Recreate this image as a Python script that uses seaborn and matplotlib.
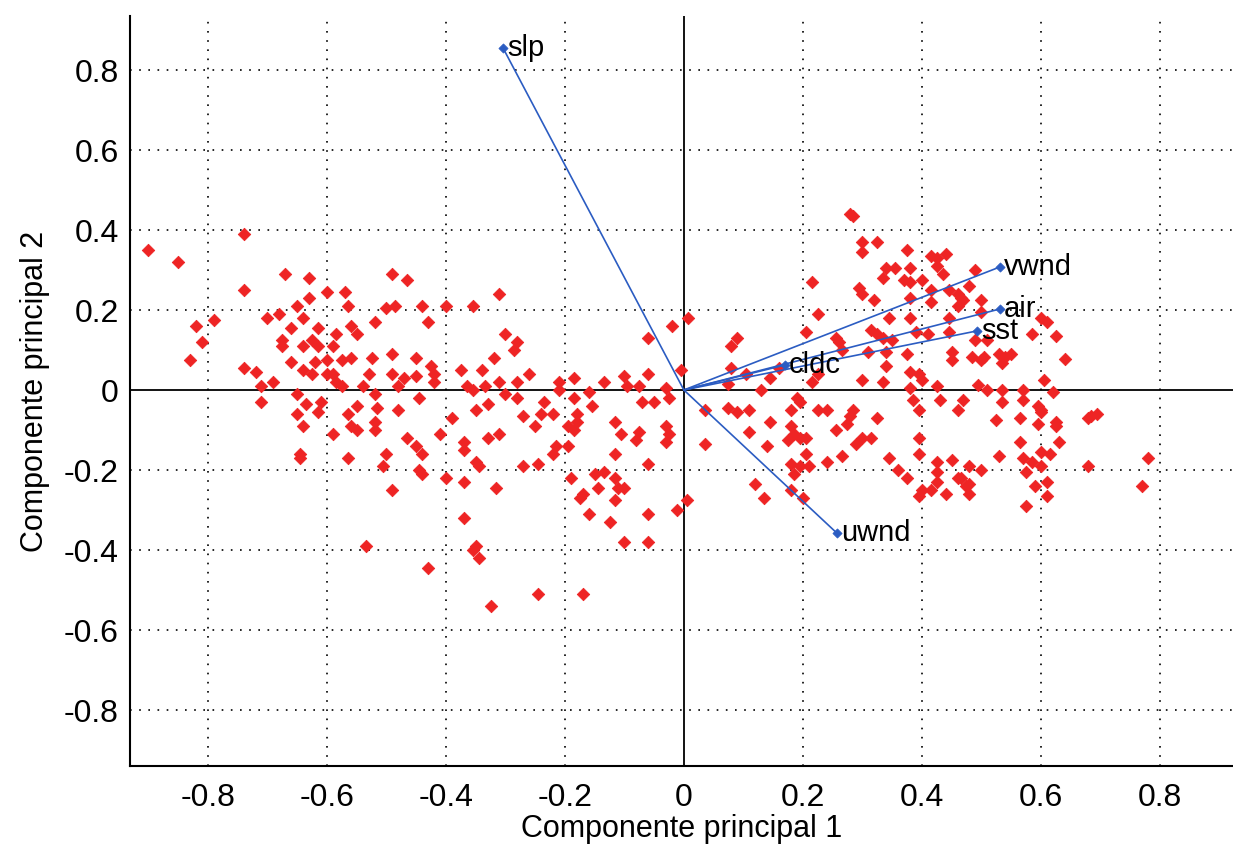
import numpy as np
import pandas as pd
import matplotlib
matplotlib.use("Agg")
import matplotlib.pyplot as plt
import seaborn as sns
from matplotlib.ticker import FuncFormatter, FixedLocator

# ---------------- data ----------------
pc1 = [
    -0.90, -0.85, -0.74, -0.74, -0.67, -0.63, -0.60, -0.57, -0.63, -0.65, -0.565, -0.49, -0.465, -0.50, -0.485,
    -0.82, -0.79, -0.81, -0.83, -0.70, -0.68, -0.64, -0.66, -0.615, -0.585, -0.56, -0.55, -0.675, -0.675, -0.64,
    -0.625, -0.615, -0.59, -0.52, -0.525, -0.49, -0.66, -0.62, -0.60, -0.575, -0.56, -0.74, -0.72, -0.71, -0.69,
    -0.64, -0.625, -0.60, -0.59, -0.585, -0.575, -0.53, -0.54, -0.52, -0.49, -0.48, -0.47, -0.65, -0.71, -0.635,
    -0.61, -0.65, -0.615, -0.565, -0.55, -0.515, -0.48, -0.64, -0.59, -0.56, -0.55, -0.52, -0.52, -0.465, -0.645,
    -0.645, -0.565, -0.50, -0.505, -0.49, -0.535,
    -0.31, -0.44, -0.40, -0.355, -0.43, -0.30, -0.28, -0.285, -0.45, -0.32, -0.425, -0.42, -0.42, -0.45, -0.375,
    -0.34, -0.26, -0.365, -0.355, -0.335, -0.31, -0.28, -0.30, -0.28, -0.445, -0.21, -0.21, -0.185, -0.185, -0.16,
    -0.135, -0.10, -0.095, -0.075, -0.06, -0.03, -0.025, -0.02, -0.06, -0.005, 0.007, -0.07, -0.05, -0.35, -0.33,
    -0.27, -0.235, -0.24, -0.22, -0.18, -0.155, -0.39, -0.41, -0.45, -0.44, -0.445, -0.44, -0.37, -0.37, -0.33,
    -0.31, -0.25, -0.195, -0.185, -0.18, -0.215, -0.22, -0.195, -0.35, -0.345, -0.27, -0.245, -0.40, -0.37, -0.315,
    -0.37, -0.355, -0.35, -0.345, -0.43, -0.325, -0.245, -0.17, -0.19, -0.15, -0.135, -0.17, -0.175, -0.145, -0.115,
    -0.11, -0.10, -0.115, -0.16, -0.125, -0.10, -0.06, -0.06, -0.012, -0.115, -0.105, -0.075, -0.08, -0.03, -0.025,
    -0.03, -0.115, -0.06, 0.005,
    0.28, 0.285, 0.30, 0.30, 0.325, 0.375, 0.415, 0.425, 0.44, 0.425, 0.435, 0.34, 0.355, 0.335, 0.38,
    0.37, 0.38, 0.40, 0.295, 0.30, 0.32, 0.38, 0.415, 0.445, 0.46, 0.465, 0.415, 0.46, 0.215, 0.225,
    0.345, 0.38, 0.445, 0.205, 0.255, 0.26, 0.265, 0.315, 0.325, 0.335, 0.35, 0.39, 0.41, 0.445, 0.09,
    0.08, 0.31, 0.34, 0.375, 0.45, 0.45, 0.34, 0.38, 0.395, 0.40, 0.08, 0.105, 0.145, 0.16, 0.225,
    0.215, 0.30, 0.335, 0.075, 0.13, 0.38, 0.425, 0.43, 0.47, 0.035, 0.075, 0.09, 0.11, 0.18, 0.19,
    0.195, 0.225, 0.24, 0.285, 0.385, 0.395, 0.46, 0.49, 0.48, 0.47, 0.50, 0.50, 0.60, 0.61, 0.585,
    0.625, 0.64, 0.49, 0.51, 0.485, 0.50, 0.505, 0.53, 0.54, 0.55, 0.535, 0.605, 0.62, 0.495, 0.51,
    0.535, 0.57, 0.535, 0.57, 0.595, 0.60, 0.685, 0.695, 0.525, 0.565, 0.60, 0.595, 0.625, 0.625, 0.68,
    0.565, 0.63, 0.53, 0.60, 0.615, 0.57, 0.585, 0.60, 0.575, 0.48, 0.50, 0.68, 0.48, 0.48, 0.465,
    0.59, 0.61, 0.61, 0.575, 0.78, 0.77, 0.11, 0.145, 0.18, 0.185, 0.195, 0.175, 0.205, 0.205, 0.14,
    0.035, 0.18, 0.195, 0.21, 0.185, 0.24, 0.265, 0.255, 0.275, 0.29, 0.30, 0.315, 0.325, 0.28, 0.345,
    0.36, 0.375, 0.395, 0.395, 0.425, 0.425, 0.425, 0.45, 0.46, 0.40, 0.415, 0.395, 0.44, 0.475, 0.12,
    0.135, 0.18, 0.20,
]
pc2 = [
    0.35, 0.32, 0.39, 0.25, 0.29, 0.28, 0.245, 0.245, 0.23, 0.21, 0.21, 0.29, 0.275, 0.205, 0.21,
    0.16, 0.175, 0.12, 0.075, 0.18, 0.19, 0.18, 0.155, 0.155, 0.14, 0.16, 0.14, 0.125, 0.11, 0.11,
    0.125, 0.11, 0.11, 0.17, 0.08, 0.09, 0.07, 0.07, 0.075, 0.075, 0.08, 0.055, 0.045, 0.01, 0.02,
    0.05, 0.04, 0.04, 0.04, 0.02, 0.01, 0.04, 0.01, -0.01, 0.04, 0.01, 0.03, -0.01, -0.03, -0.035,
    -0.03, -0.06, -0.055, -0.06, -0.04, -0.045, -0.05, -0.09, -0.11, -0.09, -0.10, -0.08, -0.10, -0.12, -0.16,
    -0.17, -0.17, -0.16, -0.19, -0.25, -0.39,
    0.24, 0.21, 0.21, 0.21, 0.17, 0.14, 0.12, 0.10, 0.08, 0.08, 0.06, 0.04, 0.02, 0.035, 0.05,
    0.05, 0.04, 0.01, 0.0, 0.01, 0.02, 0.02, -0.01, -0.02, -0.02, 0.02, 0.0, 0.03, -0.02, -0.005,
    0.02, 0.035, 0.01, 0.01, 0.04, 0.005, -0.02, 0.16, 0.13, 0.05, 0.18, -0.03, -0.03, -0.05, -0.035,
    -0.065, -0.03, -0.06, -0.06, -0.06, -0.04, -0.07, -0.11, -0.14, -0.16, -0.20, -0.21, -0.13, -0.15, -0.12,
    -0.11, -0.09, -0.09, -0.10, -0.08, -0.14, -0.16, -0.14, -0.18, -0.19, -0.19, -0.185, -0.22, -0.23, -0.245,
    -0.32, -0.40, -0.39, -0.42, -0.445, -0.54, -0.51, -0.51, -0.22, -0.21, -0.205, -0.26, -0.27, -0.245, -0.22,
    -0.245, -0.245, -0.275, -0.31, -0.33, -0.38, -0.38, -0.31, -0.30, -0.08, -0.11, -0.105, -0.125, -0.09, -0.11,
    -0.13, -0.16, -0.185, -0.275,
    0.44, 0.435, 0.37, 0.345, 0.37, 0.35, 0.335, 0.33, 0.34, 0.31, 0.29, 0.305, 0.305, 0.28, 0.305,
    0.275, 0.27, 0.275, 0.255, 0.24, 0.225, 0.23, 0.25, 0.25, 0.24, 0.23, 0.22, 0.21, 0.27, 0.19,
    0.18, 0.18, 0.18, 0.145, 0.13, 0.12, 0.10, 0.15, 0.14, 0.13, 0.125, 0.145, 0.14, 0.145, 0.13,
    0.11, 0.095, 0.095, 0.09, 0.095, 0.075, 0.06, 0.045, 0.04, 0.025, 0.055, 0.04, 0.03, 0.055, 0.04,
    0.02, 0.025, 0.02, 0.015, 0.0, 0.005, 0.01, -0.025, -0.025, -0.05, -0.045, -0.055, -0.05, -0.05, -0.02,
    -0.03, -0.05, -0.05, -0.05, -0.025, -0.05, -0.05, 0.30, 0.26, 0.225, 0.225, 0.195, 0.18, 0.17, 0.14,
    0.135, 0.078, 0.125, 0.125, 0.083, 0.075, 0.083, 0.09, 0.083, 0.09, 0.068, 0.025, -0.005, 0.012, 0.0,
    0.0, 0.0, -0.03, -0.025, -0.04, -0.05, -0.065, -0.06, -0.075, -0.07, -0.055, -0.085, -0.08, -0.09, -0.07,
    -0.13, -0.13, -0.165, -0.155, -0.16, -0.17, -0.18, -0.19, -0.205, -0.19, -0.20, -0.19, -0.235, -0.26, -0.22,
    -0.24, -0.23, -0.265, -0.29, -0.17, -0.24, -0.105, -0.08, -0.09, -0.11, -0.12, -0.125, -0.12, -0.16, -0.14,
    -0.135, -0.185, -0.19, -0.19, -0.21, -0.18, -0.165, -0.10, -0.085, -0.135, -0.12, -0.12, -0.07, -0.065, -0.17,
    -0.20, -0.22, -0.12, -0.16, -0.18, -0.205, -0.23, -0.175, -0.22, -0.25, -0.25, -0.265, -0.26, -0.24, -0.235,
    -0.27, -0.25, -0.27,
]

var_names = ["slp", "vwnd", "air", "sst", "cldc", "uwnd"]
load_pc1 = [-0.304, 0.531, 0.531, 0.492, 0.170, 0.257]
load_pc2 = [0.855, 0.3075, 0.2025, 0.1475, 0.0625, -0.3575]

tick_vals = [-0.8, -0.6, -0.4, -0.2, 0.0, 0.2, 0.4, 0.6, 0.8]

n = min(len(pc1), len(pc2))
scores = pd.DataFrame({"pc1": pc1[:n], "pc2": pc2[:n]})
loads = pd.DataFrame({"name": var_names, "pc1": load_pc1, "pc2": load_pc2})

# ---------------- figure ----------------
sns.set_theme(style="white")
plt.rcParams["font.family"] = ["Liberation Sans", "DejaVu Sans"]

fig = plt.figure(figsize=(12.33, 8.46), dpi=100)
ax = fig.add_axes([130 / 1233, 80 / 846, 1 - 130 / 1233, 750 / 846])

red = "#ee2424"
blue = "#2b5cc2"

# grid (dotted)
for v in tick_vals:
    if v != 0:
        ax.axvline(v, color="black", linestyle=(0, (1, 4.5)), linewidth=1.2, zorder=0)
        ax.axhline(v, color="black", linestyle=(0, (1, 4.5)), linewidth=1.2, zorder=0)

# zero axes
ax.axhline(0, color="black", linewidth=1.3, zorder=1)
ax.axvline(0, color="black", linewidth=1.3, zorder=1)

# scores
sns.scatterplot(data=scores, x="pc1", y="pc2", ax=ax, marker="D", s=40,
                color=red, edgecolor=red, linewidth=0.6, zorder=2, legend=False)

# loading vectors
for _, r in loads.iterrows():
    ax.plot([0, r.pc1], [0, r.pc2], color=blue, linewidth=1.2, zorder=3)
sns.scatterplot(data=loads, x="pc1", y="pc2", ax=ax, marker="D", s=22,
                color=blue, edgecolor=blue, linewidth=0.5, zorder=4, legend=False)
for _, r in loads.iterrows():
    ax.annotate(r["name"], (r.pc1, r.pc2), xytext=(3, 0), textcoords="offset points",
                ha="left", va="center", fontsize=21, color="black", zorder=5)

ax.set_xlim(-0.931, 0.923)
ax.set_ylim(-0.94, 0.935)
ax.xaxis.set_major_locator(FixedLocator(tick_vals))
ax.yaxis.set_major_locator(FixedLocator(tick_vals))
fmt = FuncFormatter(lambda v, p: "0" if abs(v) < 1e-9 else f"{v:g}")
ax.xaxis.set_major_formatter(fmt)
ax.yaxis.set_major_formatter(fmt)

ax.tick_params(axis="both", direction="in", length=9, width=1.2, colors="black",
               labelsize=23)
ax.tick_params(axis="x", pad=12)
ax.tick_params(axis="y", pad=8)

for s in ["top", "right"]:
    ax.spines[s].set_visible(False)
for s in ["left", "bottom"]:
    ax.spines[s].set_visible(True)
    ax.spines[s].set_color("black")
    ax.spines[s].set_linewidth(1.5)

ax.set_xlabel("Componente principal 1", fontsize=22, labelpad=1, color="black")
ax.set_ylabel("Componente principal 2", fontsize=22, labelpad=10, color="black")

fig.savefig("out.png", dpi=100, facecolor="white")
